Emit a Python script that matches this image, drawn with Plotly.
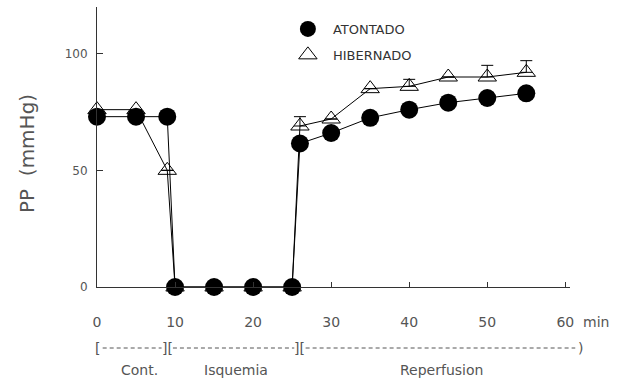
import plotly.graph_objects as go

# ---- data ----
time_aton = [0, 5, 9, 10, 15, 20, 25, 26, 30, 35, 40, 45, 50, 55]
pp_aton = [73, 73, 73, 0, 0, 0, 0, 61.5, 66, 72.5, 76, 79, 81, 83]
err_aton = [0, 0, 0, 0, 0, 0, 0, 0, 0, 0, 2, 0, 0, 0]

time_hib = [0, 5, 9, 10, 15, 20, 25, 26, 30, 35, 40, 45, 50, 55]
pp_hib = [76, 76, 50, 0, 0, 0, 0, 69, 72, 85, 86, 90, 90, 92]
err_hib = [0, 0, 0, 0, 0, 0, 0, 4, 0, 0, 3, 0, 5, 5]

x_ticks = [0, 10, 20, 30, 40, 50, 60]
x_ticktext = ["0", "10", "20", "30", "40", "50", "60"]
y_ticks = [0, 50, 100]

phase_bounds = [0, 9, 26, 62]
phase_names = ["Cont.", "Isquemia", "Reperfusion"]
phase_label_x = [5.4, 17.8, 44.2]

X_RANGE = [0, 60.6]
Y_RANGE = [0, 120]

FONT = "DejaVu Sans"
GREY = "#555555"

fig = go.Figure()

fig.add_trace(go.Scatter(
    x=time_hib, y=pp_hib, mode="lines+markers", showlegend=False,
    line=dict(color="black", width=1),
    marker=dict(symbol="triangle-up-open", size=16, color="black",
                line=dict(width=1, color="black")),
    error_y=dict(type="data", array=err_hib, arrayminus=[0] * len(err_hib),
                 symmetric=False, color="black", thickness=1, width=6),
    cliponaxis=False,
))
fig.add_trace(go.Scatter(
    x=time_aton, y=pp_aton, mode="lines+markers", showlegend=False,
    line=dict(color="black", width=1),
    marker=dict(symbol="circle", size=18, color="black"),
    error_y=dict(type="data", array=err_aton, arrayminus=[0] * len(err_aton),
                 symmetric=False, color="black", thickness=1, width=6),
    cliponaxis=False,
))

# legend-only traces
fig.add_trace(go.Scatter(x=[None], y=[None], mode="markers", name="ATONTADO",
                         legendgroup="a",
                         marker=dict(symbol="circle", size=18, color="black")))
fig.add_trace(go.Scatter(x=[None], y=[None], mode="markers", name="HIBERNADO",
                         legendgroup="b",
                         marker=dict(symbol="triangle-up-open", size=16, color="black",
                                     line=dict(width=1, color="black"))))

W, H = 635, 380
L, R, T, B = 97, 65, 7, 93
pw, ph = W - L - R, H - T - B


def xpaper(v):
    return (v - X_RANGE[0]) / (X_RANGE[1] - X_RANGE[0])


def ypaper(py):
    return (H - B - py) / ph


annotations = []
# "min" unit after last tick
annotations.append(dict(x=xpaper(60), y=ypaper(322), xref="paper", yref="paper",
                        text="min", showarrow=False, xanchor="left", yanchor="middle",
                        xshift=16, font=dict(family=FONT, size=14, color=GREY)))
# y axis title
annotations.append(dict(x=-(L - 27) / pw, y=ypaper(154), xref="paper", yref="paper",
                        text="PP  (mmHg)", textangle=-90, showarrow=False,
                        xanchor="center", yanchor="middle",
                        font=dict(family=FONT, size=20, color=GREY)))

shapes = []
bracket_y = ypaper(348)
for i in range(len(phase_bounds) - 1):
    x0 = xpaper(phase_bounds[i])
    x1 = xpaper(phase_bounds[i + 1])
    shapes.append(dict(type="line", xref="paper", yref="paper",
                       x0=x0 + 0.012, x1=x1 - 0.012, y0=bracket_y, y1=bracket_y,
                       line=dict(color=GREY, width=1, dash="4px,3px")))
bracket_chars = ["[", "][", "][", ")"]
for bx, ch in zip(phase_bounds, bracket_chars):
    annotations.append(dict(x=xpaper(bx), y=bracket_y, xref="paper", yref="paper",
                            text=ch, showarrow=False, xanchor="center", yanchor="middle",
                            font=dict(family=FONT, size=14, color=GREY)))
for lx, name in zip(phase_label_x, phase_names):
    annotations.append(dict(x=xpaper(lx), y=ypaper(370), xref="paper", yref="paper",
                            text=name, showarrow=False, xanchor="center", yanchor="middle",
                            font=dict(family=FONT, size=14, color=GREY)))

fig.update_layout(
    width=W, height=H,
    margin=dict(l=L, r=R, t=T, b=B, pad=0),
    paper_bgcolor="white", plot_bgcolor="white",
    font=dict(family=FONT, color=GREY),
    showlegend=True,
    legend=dict(x=0.393, y=0.975, xanchor="left", yanchor="top",
                font=dict(family=FONT, size=13, color="#333333"),
                bgcolor="rgba(0,0,0,0)", tracegroupgap=6, itemsizing="trace",
                itemwidth=40),
    xaxis=dict(range=X_RANGE, tickvals=x_ticks, ticktext=x_ticktext,
               showgrid=False, zeroline=False, showline=True, linecolor="#333333",
               linewidth=1, ticks="inside", ticklen=5, tickcolor="#333333",
               ticklabelstandoff=22,
               tickfont=dict(family=FONT, size=14, color=GREY)),
    yaxis=dict(range=Y_RANGE, tickvals=y_ticks, showgrid=False, zeroline=False,
               showline=True, linecolor="#333333", linewidth=1, ticks="inside",
               ticklen=6, tickcolor="#333333", ticklabelstandoff=6,
               tickfont=dict(family=FONT, size=12, color=GREY)),
    annotations=annotations,
    shapes=shapes,
)

fig.write_html("out.html")
